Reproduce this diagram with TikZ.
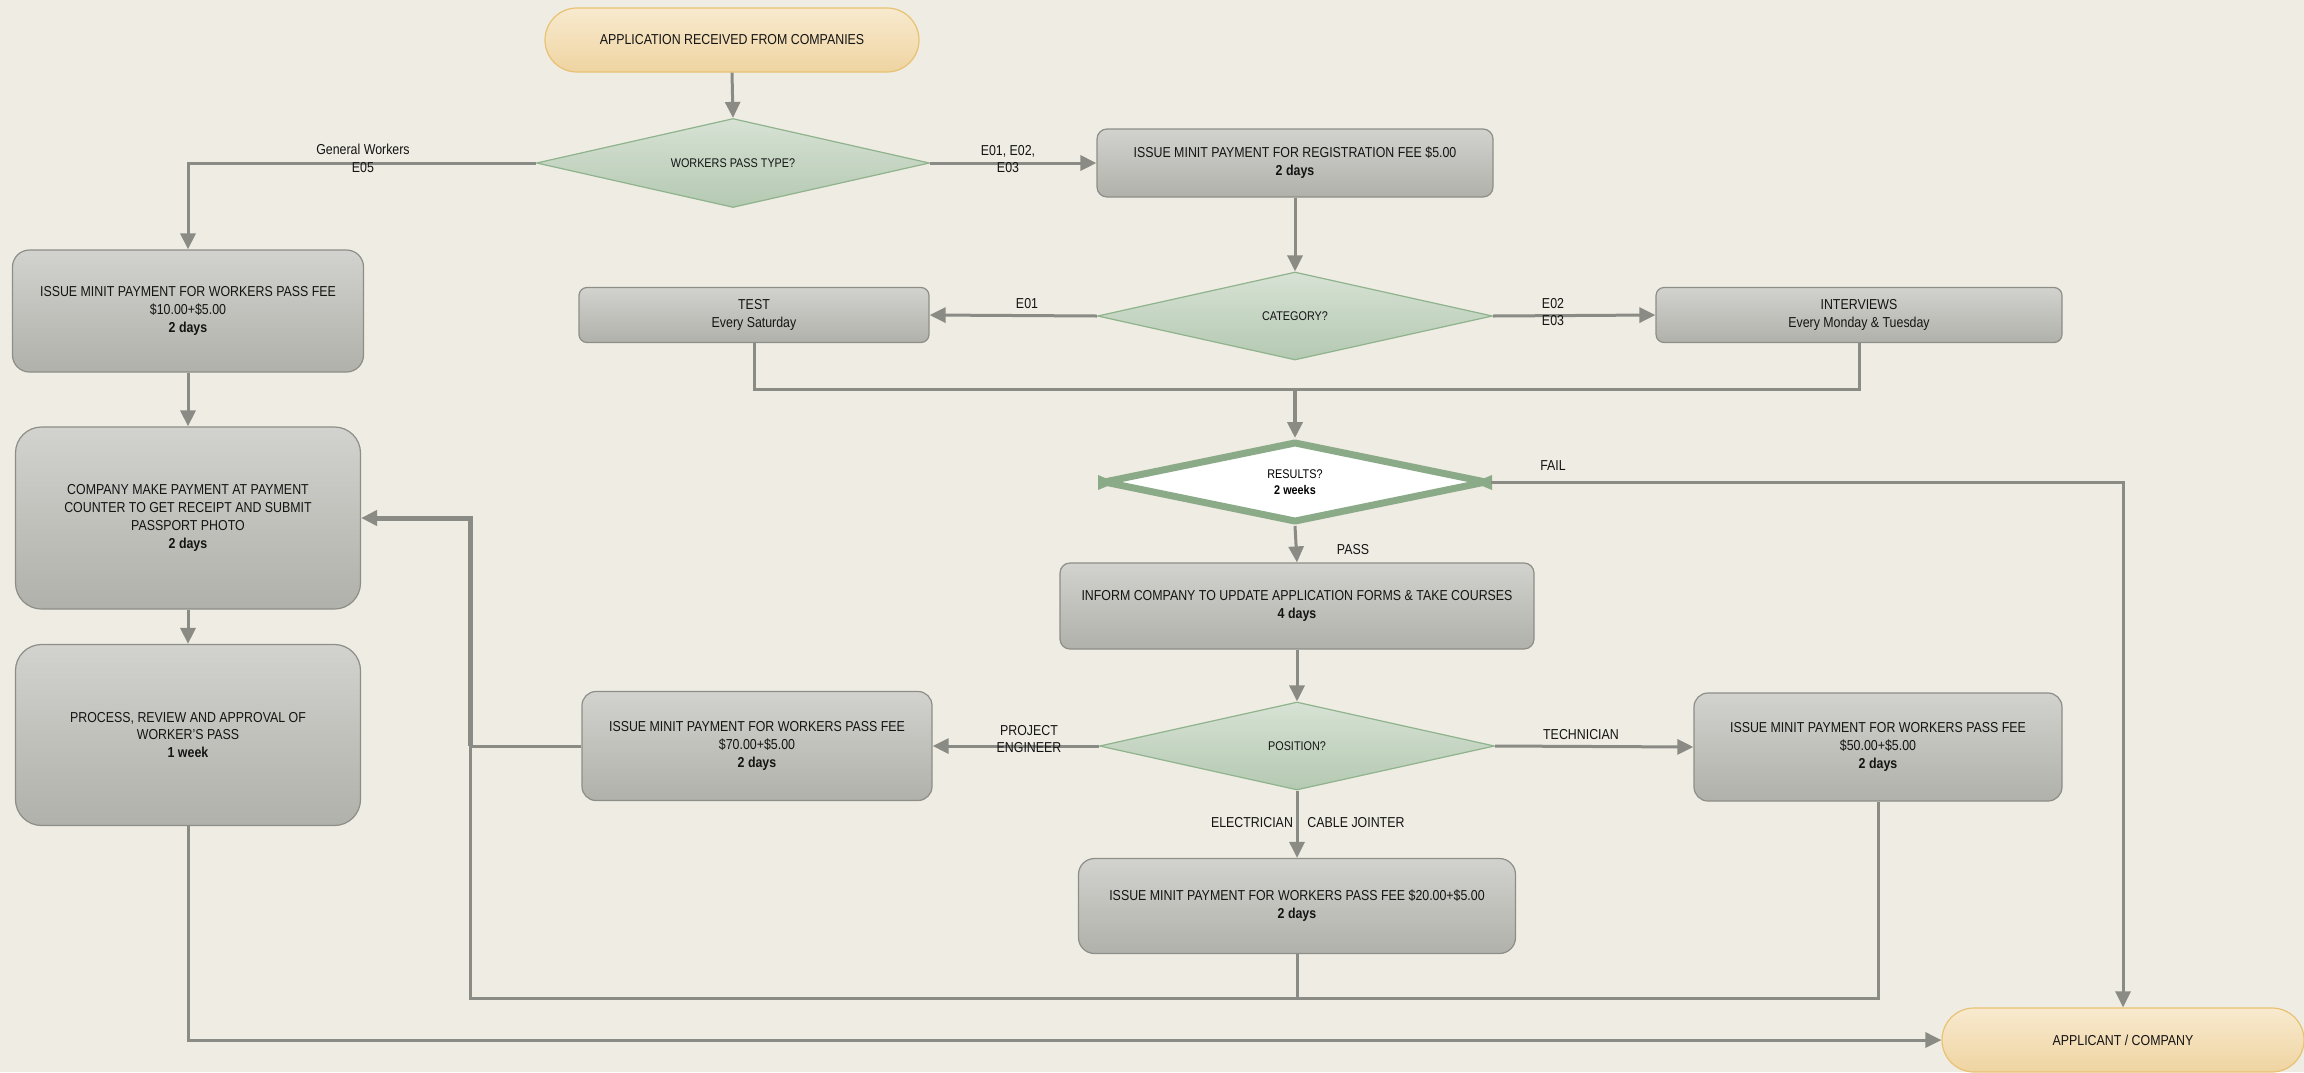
\documentclass[tikz,border=0pt]{standalone}
\usepackage{fontspec}
\setmainfont{Liberation Sans}[FakeStretch=0.86]
\usetikzlibrary{shapes.geometric,arrows.meta}
\definecolor{bg}{HTML}{EFECE3}
\definecolor{boxtop}{HTML}{D2D2CE}
\definecolor{boxbot}{HTML}{B1B1AB}
\definecolor{boxdraw}{HTML}{8E8E88}
\definecolor{diatop}{HTML}{D7E2D4}
\definecolor{diabot}{HTML}{B4C9B2}
\definecolor{diadraw}{HTML}{8FB38C}
\definecolor{termtop}{HTML}{F8EACF}
\definecolor{termbot}{HTML}{EFD4A1}
\definecolor{termdraw}{HTML}{E8C272}
\definecolor{conn}{HTML}{8A8B85}
\definecolor{resgreen}{HTML}{8BAB88}
\tikzset{
  txt/.style={font=\fontsize{7.2}{8.9}\selectfont, text=black!92, align=center},
  procbox/.style={txt, rectangle, draw=boxdraw, line width=0.6pt, top color=boxtop, bottom color=boxbot, inner sep=0pt},
  decide/.style={diamond, shape aspect=4.4, draw=diadraw, line width=0.6pt, top color=diatop, bottom color=diabot, inner sep=0pt, font=\fontsize{6.3}{8}\selectfont, text=black!92},
  term/.style={txt, rectangle, rounded corners=16pt, draw=termdraw, line width=0.6pt, top color=termtop, bottom color=termbot, inner sep=0pt},
  conline/.style={draw=conn, line width=1.5pt},
  arr/.style={conline, -{Triangle[length=8pt,width=7.5pt]}},
  lbl/.style={txt, inner sep=0pt},
}
\begin{document}
\begin{tikzpicture}[x=0.5pt,y=-0.5pt]
\fill[bg] (0,0) rectangle (2304,1072);
\useasboundingbox (0,0) rectangle (2304,1072);

% nodes
\node[term, minimum width=187pt, minimum height=32pt] (start) at (732,40) {APPLICATION RECEIVED FROM COMPANIES};
\node[decide, minimum width=196.5pt, minimum height=44.5pt] (d1) at (733,163) {WORKERS PASS TYPE?};
\node[procbox, rounded corners=8.5pt, minimum width=175.5pt, minimum height=61pt] (gw) at (188,311) {ISSUE MINIT PAYMENT FOR WORKERS PASS FEE\\\$10.00+\$5.00\\\textbf{2 days}};
\node[procbox, rounded corners=5pt, minimum width=198pt, minimum height=34pt] (reg) at (1295,163) {ISSUE MINIT PAYMENT FOR REGISTRATION FEE \$5.00\\\textbf{2 days}};
\node[decide, minimum width=197.5pt, minimum height=44pt] (cat) at (1295,316) {CATEGORY?};
\node[procbox, rounded corners=4pt, minimum width=175pt, minimum height=27.5pt] (test) at (754,315) {TEST\\Every Saturday};
\node[procbox, rounded corners=4pt, minimum width=203pt, minimum height=27.5pt] (intv) at (1859,315) {INTERVIEWS\\Every Monday \& Tuesday};
\node[diamond, shape aspect=4.4, draw=resgreen, line width=3.5pt, line join=bevel, fill=white, minimum width=192pt, minimum height=40.5pt, inner sep=0pt, font=\fontsize{6.3}{8}\selectfont, align=center] (res) at (1295,482) {RESULTS?\\\textbf{2 weeks}};
\fill[resgreen] (1098,475) -- (1098,490) -- (1116,482.5) -- cycle;
\fill[resgreen] (1492,475) -- (1492,490) -- (1474,482.5) -- cycle;
\node[procbox, rounded corners=5pt, minimum width=237pt, minimum height=43pt] (inform) at (1297,606) {INFORM COMPANY TO UPDATE APPLICATION FORMS \& TAKE COURSES\\\textbf{4 days}};
\node[decide, minimum width=197.5pt, minimum height=44pt] (pos) at (1297,746) {POSITION?};
\node[procbox, rounded corners=7pt, minimum width=175pt, minimum height=54.5pt] (pe) at (757,746) {ISSUE MINIT PAYMENT FOR WORKERS PASS FEE\\\$70.00+\$5.00\\\textbf{2 days}};
\node[procbox, rounded corners=7pt, minimum width=184pt, minimum height=54pt] (tech) at (1878,747) {ISSUE MINIT PAYMENT FOR WORKERS PASS FEE\\\$50.00+\$5.00\\\textbf{2 days}};
\node[procbox, rounded corners=8pt, minimum width=218.5pt, minimum height=47.5pt] (elec) at (1297,906) {ISSUE MINIT PAYMENT FOR WORKERS PASS FEE \$20.00+\$5.00\\\textbf{2 days}};
\node[procbox, rounded corners=13pt, minimum width=172.5pt, minimum height=91pt] (comp) at (188,518) {COMPANY MAKE PAYMENT AT PAYMENT\\COUNTER TO GET RECEIPT AND SUBMIT\\PASSPORT PHOTO\\\textbf{2 days}};
\node[procbox, rounded corners=13pt, minimum width=172.5pt, minimum height=90.5pt] (proc) at (188,735) {PROCESS, REVIEW AND APPROVAL OF\\WORKER'S PASS\\\textbf{1 week}};
\node[term, minimum width=181pt, minimum height=32pt] (app) at (2123,1040) {APPLICANT / COMPANY};

% coordinates
\coordinate (m1) at (1295,389);
\coordinate (cL) at (470,998);

% connectors
\draw[arr] (start.south) -- (d1.north);
\draw[arr] (d1.west) -| (gw.north);
\node[lbl] (lgw) at (363,158) {General Workers\\E05};
\draw[arr] (d1.east) -- (reg.west);
\node[lbl] (le1) at (1008,159) {E01, E02,\\E03};
\draw[arr] (reg.south) -- (cat.north);
\draw[arr] (cat.west) -- (test.east);
\node[lbl] (le01) at (1027,304) {E01};
\draw[arr] (cat.east) -- (intv.west);
\node[lbl] (le23) at (1553,312) {E02\\E03};
\draw[conline] (test.south) |- (m1) -| (intv.south);
\draw[arr, line width=2pt] (m1) -- (res.north);
\draw[arr] (res.east) -| (app.north);
\node[lbl] (lfail) at (1553,466) {FAIL};
\draw[arr] (res.south) -- (inform.north);
\node[lbl] (lpass) at (1353,550) {PASS};
\draw[arr] (inform.south) -- (pos.north);
\draw[arr] (pos.west) -- (pe.east);
\node[lbl] (lpe) at (1029,739) {PROJECT\\ENGINEER};
\draw[arr] (pos.east) -- (tech.west);
\node[lbl] (ltech) at (1581,735) {TECHNICIAN};
\draw[arr] (pos.south) -- (elec.north);
\node[lbl] (lel) at (1252,823) {ELECTRICIAN};
\node[lbl] (lcj) at (1356,823) {CABLE JOINTER};
\draw[arr] (gw.south) -- (comp.north);
\draw[arr] (comp.south) -- (proc.north);
\draw[conline] (tech.south) |- (cL) -- (cL |- pe.west);
\draw[arr, line width=2.5pt] (cL |- pe.west) |- (comp.east);
\draw[conline] (elec.south) -- (elec.south |- cL);
\draw[conline] (pe.west) -- (pe.west -| cL);
\draw[arr] (proc.south) |- (app.west);
\end{tikzpicture}
\end{document}
